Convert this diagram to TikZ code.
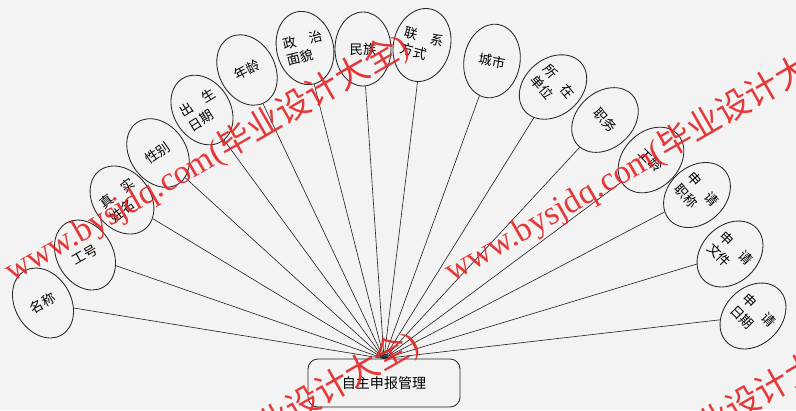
\documentclass[tikz,border=0pt]{standalone}
\usepackage{fontspec}
\setmainfont{Liberation Serif}
\newfontfamily\cjk{Noto Sans CJK SC}
\newfontfamily\wmfont{Liberation Serif}
\usetikzlibrary{shapes.geometric}
\definecolor{bg}{RGB}{243,243,243}
\definecolor{wm}{RGB}{228,36,36}
\tikzset{
  attr/.style={draw=black!85,ellipse,fill=bg,line width=0.6pt,minimum width=1.4cm,minimum height=1.85cm,
    inner sep=0pt,align=left,font=\cjk\fontsize{9.5}{12}\selectfont},
  proc/.style={draw=black!85,fill=bg,line width=0.6pt,rounded corners=0.25cm,minimum width=3.8cm,
    minimum height=1.2cm,font=\cjk\fontsize{10}{12}\selectfont},
  link/.style={draw=black!85,line width=0.45pt},
  mark/.style={}
}
\begin{document}
\begin{tikzpicture}[x=0.025cm,y=-0.025cm]
\useasboundingbox (0,0) rectangle (796,410);
\clip (0,0) rectangle (796,410);
\fill[bg] (0,0) rectangle (796,410);
%\draw[help lines] (0,0) grid[step=50] (796,410);
\node[proc] (sb) at (384,383) {自主申报管理};
\coordinate (hub) at (sb.north);
\foreach \pos/\ang/\name/\txt in {{43,303}/30/nm/名称, {85,255}/30/gh/工号, {122,200}/38/zsxm/{真\quad 实\\姓名},
  {158,153}/35/xb/性别, {202,110}/32/csrq/{出\quad 生\\日期}, {247,70}/28/nl/年龄,
  {305,48}/14/zzmm/{政\quad 治\\面貌}, {363,49}/0/mz/民族, {422,45}/-15/lxfs/{联\quad 系\\方式},
  {492,61}/-10/cs/城市, {553,87}/-50/szdw/{所\quad 在\\单位}, {605,120}/-48/zw/职务,
  {651,160}/-45/gl/工龄, {697,195}/-48/sqzc/{申\quad 请\\职称}, {730,254}/-45/sqwj/{申\quad 请\\文件},
  {753,316}/-45/sqrq/{申\quad 请\\日期}}
{
  \node[attr,rotate=\ang] (\name) at (\pos) {\txt};
  \draw[link] (\name) -- (hub);
}
% watermark
\foreach \wx/\wy in {12/283, 452/283, 22/580, 462/580}
  \node[anchor=base west,rotate=30,inner sep=0pt,text=wm,opacity=0.9,font=\fontsize{24}{24}\selectfont]
    at (\wx,\wy) {{\wmfont www.bysjdq.com(}{\cjk 毕业设计大全}{\wmfont )}};
\end{tikzpicture}
\end{document}
